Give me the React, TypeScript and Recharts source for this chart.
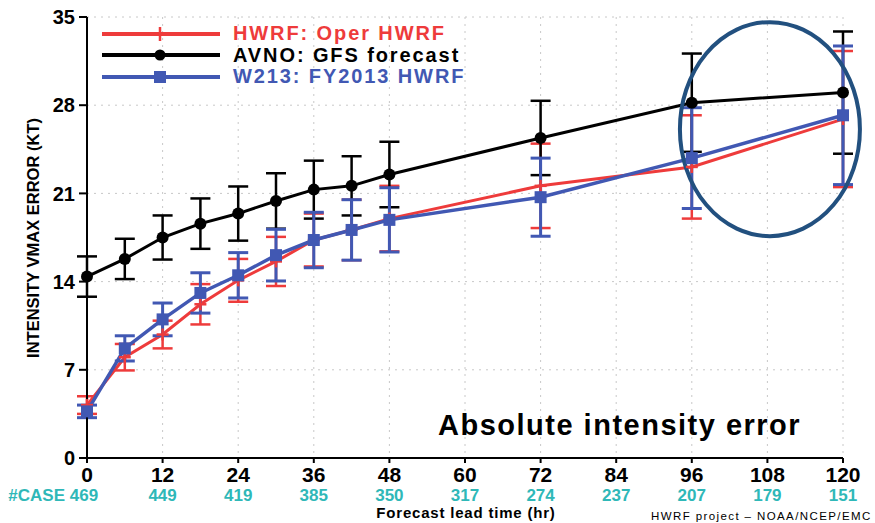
import {
  LineChart, Line, ErrorBar, XAxis, YAxis, CartesianGrid, ReferenceDot,
} from 'recharts';

// forecast lead times with verification (hr)
const HOURS = [0, 6, 12, 18, 24, 30, 36, 42, 48, 72, 96, 120];

// HWRF: Oper HWRF
const HWRF = [4.2, 8.0, 9.8, 12.2, 14.1, 15.6, 17.3, 18.1, 19.0, 21.6, 23.1, 26.9];
const HWRF_ERR = [0.7, 1.05, 1.1, 1.6, 1.7, 1.95, 2.1, 2.4, 2.6, 3.35, 4.1, 5.4];

// AVNO: GFS forecast
const AVNO = [14.4, 15.8, 17.5, 18.6, 19.4, 20.4, 21.3, 21.6, 22.5, 25.4, 28.2, 29.0];
const AVNO_ERR = [1.6, 1.6, 1.75, 2.0, 2.15, 2.2, 2.3, 2.35, 2.6, 2.95, 3.9, 4.85];

// W213: FY2013 HWRF
const W213 = [3.7, 8.7, 11.0, 13.1, 14.5, 16.1, 17.3, 18.1, 18.9, 20.7, 23.8, 27.2];
const W213_ERR = [0.5, 1.0, 1.3, 1.6, 1.8, 2.05, 2.2, 2.4, 2.55, 3.1, 4.0, 5.5];

const X_TICKS = [0, 12, 24, 36, 48, 60, 72, 84, 96, 108, 120];
const CASES = [469, 449, 419, 385, 350, 317, 274, 237, 207, 179, 151];
const Y_TICKS = [0, 7, 14, 21, 28, 35];

const RED = '#ee3b3b';
const BLUE = '#4158b3';
const TEAL = '#2fb8b8';
const CIRCLE = '#22507f';
const SANS = "'Liberation Sans', Arial, sans-serif";

const data = HOURS.map((h, i) => ({
  hour: h,
  hwrf: HWRF[i], hwrfErr: HWRF_ERR[i],
  avno: AVNO[i], avnoErr: AVNO_ERR[i],
  w213: W213[i], w213Err: W213_ERR[i],
}));

const PlusDot = (p: any) => (
  <g key={p.key}>
    <line x1={p.cx - 6} x2={p.cx + 6} y1={p.cy} y2={p.cy} stroke={RED} strokeWidth={2.5} />
    <line x1={p.cx} x2={p.cx} y1={p.cy - 6} y2={p.cy + 6} stroke={RED} strokeWidth={2.5} />
  </g>
);
const CircleDot = (p: any) => <circle key={p.key} cx={p.cx} cy={p.cy} r={6} fill="#000" />;
const SquareDot = (p: any) => <rect key={p.key} x={p.cx - 6} y={p.cy - 6} width={12} height={12} fill={BLUE} />;

const XTick = ({ x, y, payload }: any) => {
  const i = X_TICKS.indexOf(payload.value);
  return (
    <g fontFamily={SANS} fontWeight="bold">
      <text x={x} y={y + 17} textAnchor="middle" fontSize={21} fill="#000">
        {payload.value}
      </text>
      <text x={i === 0 ? x - 3 : x} y={y + 36} textAnchor="middle" fontSize={17} fill={TEAL}>
        {CASES[i]}
      </text>
      {i === 0 && (
        <text x={x - 22} y={y + 36} textAnchor="end" fontSize={17} fill={TEAL}>
          #CASE
        </text>
      )}
    </g>
  );
};

const legendRows = [
  { label: 'HWRF: Oper HWRF', color: RED, mark: 'plus' },
  { label: 'AVNO: GFS forecast', color: '#000', mark: 'circle' },
  { label: 'W213: FY2013 HWRF', color: BLUE, mark: 'square' },
];

function LegendBox() {
  return (
    <div style={{ position: 'absolute', left: 102, top: 23 }}>
      {legendRows.map((r) => (
        <div key={r.label} style={{ display: 'flex', alignItems: 'center', height: 21.5 }}>
          <svg width={120} height={20}>
            <line x1={0} x2={118} y1={10} y2={10} stroke={r.color} strokeWidth={4} />
            {r.mark === 'plus' && (
              <g stroke={r.color} strokeWidth={2.5}>
                <line x1={52} x2={64} y1={10} y2={10} />
                <line x1={58} x2={58} y1={3} y2={17} />
              </g>
            )}
            {r.mark === 'circle' && <circle cx={58} cy={10} r={5.5} fill={r.color} />}
            {r.mark === 'square' && <rect x={52} y={4} width={12} height={12} fill={r.color} />}
          </svg>
          <span style={{ marginLeft: 11, color: r.color, fontFamily: SANS, fontWeight: 'bold', fontSize: 20, letterSpacing: 1.9, whiteSpace: 'pre' }}>
            {r.label}
          </span>
        </div>
      ))}
    </div>
  );
}

const Ellipse = (p: any) => (
  <ellipse cx={p.cx} cy={p.cy} rx={90} ry={107} fill="none" stroke={CIRCLE} strokeWidth={4} />
);

export default function App() {
  return (
    <div style={{ position: 'absolute', left: 0, top: 0, width: 875, height: 523, background: '#fff' }}>
      <LineChart width={875} height={523} data={data} margin={{ top: 17, right: 32, bottom: 0, left: 0 }}>
        <CartesianGrid stroke="#c8c8c8" strokeDasharray="2 5" />
        <XAxis
          dataKey="hour" type="number" domain={[0, 120]} ticks={X_TICKS} height={65}
          axisLine={{ stroke: '#000', strokeWidth: 2 }} tickLine={{ stroke: '#000', strokeWidth: 2 }}
          tickSize={5} tick={<XTick />}
        />
        <XAxis xAxisId="top" orientation="top" type="number" domain={[0, 120]} height={0}
          tick={false} tickLine={false} axisLine={{ stroke: '#000', strokeWidth: 2 }} />
        <YAxis
          type="number" domain={[0, 35]} ticks={Y_TICKS} width={87}
          axisLine={{ stroke: '#000', strokeWidth: 2 }} tickLine={{ stroke: '#000', strokeWidth: 2 }}
          tickSize={8} tickMargin={4}
          tick={{ fill: '#000', fontSize: 20, fontWeight: 'bold', fontFamily: SANS }}
        />
        <YAxis yAxisId="right" orientation="right" type="number" domain={[0, 35]} width={0}
          tick={false} tickLine={false} axisLine={{ stroke: '#000', strokeWidth: 2 }} />
        <Line dataKey="hwrf" stroke={RED} strokeWidth={3} dot={PlusDot} isAnimationActive={false}>
          <ErrorBar dataKey="hwrfErr" direction="y" width={10} stroke={RED} strokeWidth={2.5} isAnimationActive={false} />
        </Line>
        <Line dataKey="avno" stroke="#000" strokeWidth={3} dot={CircleDot} isAnimationActive={false}>
          <ErrorBar dataKey="avnoErr" direction="y" width={10} stroke="#000" strokeWidth={2.5} isAnimationActive={false} />
        </Line>
        <Line dataKey="w213" stroke={BLUE} strokeWidth={3.5} dot={SquareDot} isAnimationActive={false}>
          <ErrorBar dataKey="w213Err" direction="y" width={10} stroke={BLUE} strokeWidth={3} isAnimationActive={false} />
        </Line>
        <ReferenceDot x={108.4} y={26.1} shape={Ellipse} ifOverflow="visible" />
      </LineChart>

      <LegendBox />

      <div style={{
        position: 'absolute', left: 33, top: 238, transform: 'translate(-50%, -50%) rotate(-90deg)',
        fontFamily: SANS, fontWeight: 'bold', fontSize: 16.5, whiteSpace: 'nowrap', color: '#000',
      }}>
        INTENSITY VMAX ERROR (KT)
      </div>

      <div style={{
        position: 'absolute', left: 438, top: 409, fontFamily: SANS, fontWeight: 'bold',
        fontSize: 29, letterSpacing: 1.5, color: '#000', whiteSpace: 'nowrap',
      }}>
        Absolute intensity error
      </div>

      <div style={{
        position: 'absolute', left: 466, top: 504, transform: 'translateX(-50%)', fontFamily: SANS,
        fontWeight: 'bold', fontSize: 15, letterSpacing: 0.8, whiteSpace: 'nowrap', color: '#000',
      }}>
        Forecast lead time (hr)
      </div>

      <div style={{
        position: 'absolute', left: 651, top: 510, fontFamily: SANS, fontSize: 11.5,
        letterSpacing: 1.4, whiteSpace: 'nowrap', color: '#000',
      }}>
        HWRF project – NOAA/NCEP/EMC
      </div>
    </div>
  );
}
